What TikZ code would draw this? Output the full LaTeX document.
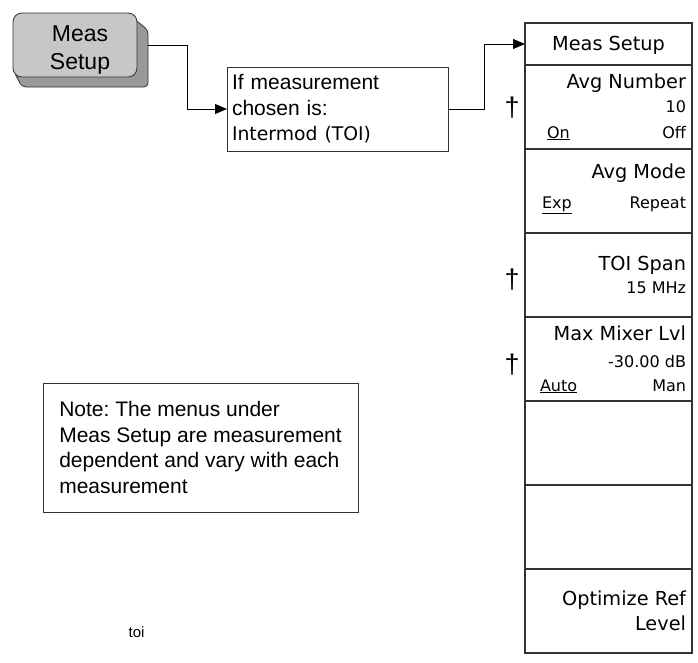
\documentclass[tikz,border=0pt]{standalone}
\usepackage{fontspec}
\setmainfont{Liberation Sans}
\newfontfamily\keyfont{DejaVu Sans}
\usetikzlibrary{arrows.meta, positioning, calc}
\definecolor{keyface}{rgb}{0.78, 0.78, 0.78}
\definecolor{keyshade}{rgb}{0.60, 0.60, 0.60}
\definecolor{edgegray}{rgb}{0.2, 0.2, 0.2}
\frenchspacing

\begin{document}
\begin{tikzpicture}[x=1pt, y=-1pt,
		every node/.style={inner sep=0pt, outer sep=0pt},
		softkey/.style={draw=edgegray, line width=1.1pt, minimum width=167pt, minimum height=84pt, anchor=north west},
		keylabel/.style={font=\keyfont\fontsize{19.3}{23}\selectfont, anchor=base east},
		keyvalue/.style={font=\keyfont\fontsize{16}{19}\selectfont, anchor=base east},
		keyopt/.style={font=\keyfont\fontsize{16}{19}\selectfont, anchor=base west},
		dagger/.style={font=\fontsize{27}{30}\selectfont},
		textbox/.style={draw=edgegray, line width=1pt, align=left, font=\fontsize{21}{25.5}\selectfont},
		flow/.style={-{Triangle[length=12pt, width=10pt]}, line width=1pt}
	]
	\useasboundingbox (0,0) rectangle (698,662);

	% Hard key with its shadow
	\filldraw[fill=keyshade, draw=edgegray, line width=0.8pt, rounded corners=4pt]
	(128,14) -- (148,30) -- (148,87) -- (22,87) -- (14,72) -- cycle;
	\node[draw=edgegray, fill=keyface, line width=0.8pt, rounded corners=9pt, minimum width=124pt, minimum height=64pt] (measface) at (75,45) {};
	\node[font=\fontsize{23}{28}\selectfont, align=center] (meas) at (80,50) {Meas\\Setup};
	\coordinate (measedge) at (148,45);

	% Condition box and note
	\node[textbox, minimum width=221pt, minimum height=84pt, text width=211pt, inner xsep=5pt] (ifbox) at (337.5,109)
	{If measurement\\chosen is:\\{\keyfont\fontsize{18.8}{25.5}\selectfont Intermod (TOI)}};
	\node[textbox, minimum width=315pt, minimum height=129pt] (note) at (200.5,447.5)
	{Note: The menus under\\Meas Setup are measurement\\dependent and vary with each\\measurement};
	\node[font=\fontsize{15}{18}\selectfont] (toilabel) at (136.5,632) {toi};

	% Softkey menu
	\node[softkey, minimum height=42pt] (title) at (525,23) {};
	\foreach \name [count=\i from 0] in {avgnum, avgmode, toispan, mixer, blanka, blankb, optref}
	\node[softkey] (\name) at (525,{65+84*\i}) {};

	\node[keylabel, anchor=base] (titlelbl) at ($(title.north)+(0,27)$) {Meas Setup};

	\node[keylabel] (numlbl) at ($(avgnum.north east)+(-6,23)$) {Avg Number};
	\node[keyvalue] (numval) at ($(avgnum.north east)+(-6,47)$) {10};
	\node[keyopt] (numon) at ($(avgnum.north west)+(22,73)$) {\underline{On}};
	\node[keyvalue] (numoff) at ($(avgnum.north east)+(-6,73)$) {Off};

	\node[keylabel] (modelbl) at ($(avgmode.north east)+(-6,29)$) {Avg Mode};
	\node[keyopt] (modeexp) at ($(avgmode.north west)+(17,59)$) {\underline{Exp}};
	\node[keyvalue] (moderep) at ($(avgmode.north east)+(-6,59)$) {Repeat};

	\node[keylabel] (spanlbl) at ($(toispan.north east)+(-6,37)$) {TOI Span};
	\node[keyvalue] (spanval) at ($(toispan.north east)+(-6,60)$) {15 MHz};

	\node[keylabel] (mixlbl) at ($(mixer.north east)+(-6,23)$) {Max Mixer Lvl};
	\node[keyvalue] (mixval) at ($(mixer.north east)+(-6,50)$) {-30.00 dB};
	\node[keyopt] (mixauto) at ($(mixer.north west)+(15,74)$) {\underline{Auto}};
	\node[keyvalue] (mixman) at ($(mixer.north east)+(-6,74)$) {Man};

	\node[keylabel] (optlbl) at ($(optref.north east)+(-6,36)$) {Optimize Ref};
	\node[keylabel] (optlvl) at ($(optref.north east)+(-6,61)$) {Level};

	% Daggers
	\node[dagger] (dagnum) at (512,108) {†};
	\node[dagger] (dagspan) at (512,280) {†};
	\node[dagger] (dagmix) at (512,365) {†};

	% Connectors
	\draw[flow] (measedge) -- ++(39,0) |- (ifbox.west);
	\draw[flow] (ifbox.east) -- ++(36,0) |- (title.west);
\end{tikzpicture}
\end{document}
